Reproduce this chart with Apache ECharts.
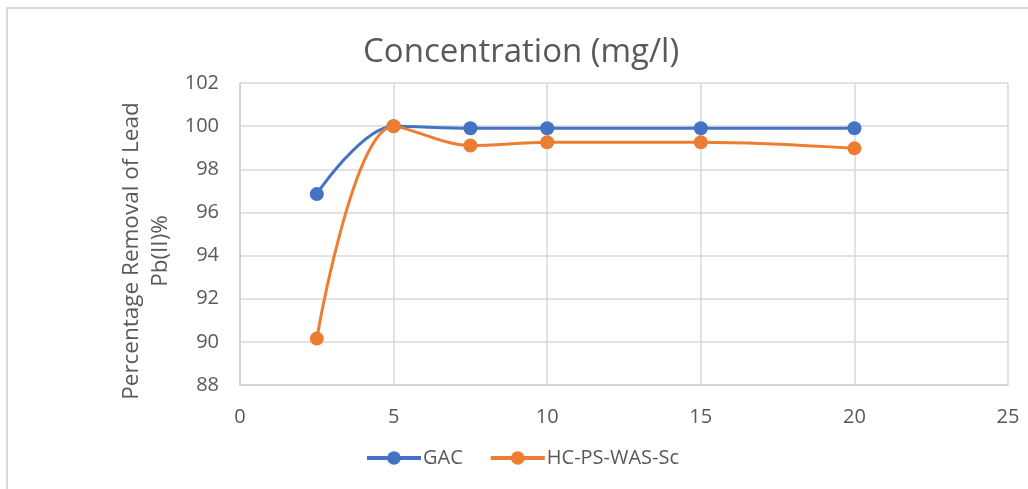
<!DOCTYPE html>
<html>
<head>
<meta charset="utf-8">
<script src="https://cdn.jsdelivr.net/npm/echarts@6/dist/echarts.min.js"></script>
<style>
  html, body { margin: 0; padding: 0; background: #fff; }
  #chart { width: 1028px; height: 489px; }
</style>
</head>
<body>
<div id="chart"></div>
<script>
// Concentration (mg/l) on x, lead removal (%) on y
const concentration = [2.5, 5, 7.5, 10, 15, 20];
const gacRemoval = [96.85, 100, 99.9, 99.9, 99.9, 99.9];
const hcRemoval = [90.15, 100, 99.1, 99.25, 99.25, 98.97];
const seriesNames = ['GAC', 'HC-PS-WAS-Sc'];
const xTicks = { min: 0, max: 25, interval: 5 };
const yTicks = { min: 88, max: 102, interval: 2 };

const font = '"Open Sans", "Noto Sans", sans-serif';
const textGrey = '#595959';
const gridGrey = '#d9d9d9';

const pairs = (xs, ys) => xs.map((x, i) => [x, ys[i]]);

const chart = echarts.init(document.getElementById('chart'), null, { renderer: 'canvas' });
chart.setOption({
  animation: false,
  backgroundColor: '#fff',
  title: {
    text: 'Concentration (mg/l)',
    left: 358,
    top: 31,
    textStyle: { fontFamily: font, fontSize: 33, fontWeight: 'normal', color: textGrey }
  },
  graphic: [
    {
      type: 'rect',
      shape: { x: 7, y: 8, width: 1100, height: 600 },
      style: { fill: 'none', stroke: gridGrey, lineWidth: 2 },
      silent: true
    },
    {
      type: 'text',
      x: 146,
      y: 251,
      rotation: Math.PI / 2,
      style: {
        text: 'Percentage Removal of Lead\nPb(II)%',
        fontFamily: font,
        fontSize: 22.5,
        lineHeight: 29,
        fill: textGrey,
        align: 'center',
        verticalAlign: 'middle'
      }
    }
  ],
  legend: {
    bottom: 16,
    left: 360,
    itemWidth: 54,
    itemHeight: 17,
    itemGap: 26,
    lineStyle: { width: 4 },
    textStyle: { fontFamily: font, fontSize: 20, color: textGrey, padding: [0, 0, 0, -3] },
    data: seriesNames
  },
  grid: { left: 240, right: 20, top: 83, bottom: 104, containLabel: false },
  xAxis: {
    type: 'value',
    min: xTicks.min, max: xTicks.max, interval: xTicks.interval,
    axisLine: { show: true, lineStyle: { color: '#cfcfcf', width: 1.5 } },
    axisTick: { show: false },
    axisLabel: { fontFamily: font, fontSize: 20, color: textGrey, margin: 22 },
    splitLine: { show: true, lineStyle: { color: gridGrey, width: 1.5 } }
  },
  yAxis: {
    type: 'value',
    min: yTicks.min, max: yTicks.max, interval: yTicks.interval,
    axisLine: { show: true, lineStyle: { color: '#cfcfcf', width: 1.5 } },
    axisTick: { show: false },
    axisLabel: { fontFamily: font, fontSize: 20, color: textGrey, margin: 21 },
    splitLine: { show: true, lineStyle: { color: gridGrey, width: 1.5 } }
  },
  series: [
    {
      name: seriesNames[0],
      type: 'line',
      data: pairs(concentration, gacRemoval),
      smooth: 0.35,
      symbol: 'circle',
      symbolSize: 14,
      lineStyle: { width: 3, color: '#4472c4' },
      itemStyle: { color: '#4472c4' }
    },
    {
      name: seriesNames[1],
      type: 'line',
      data: pairs(concentration, hcRemoval),
      smooth: 0.35,
      symbol: 'circle',
      symbolSize: 14,
      lineStyle: { width: 3, color: '#ed7d31' },
      itemStyle: { color: '#ed7d31' }
    }
  ]
});
</script>
</body>
</html>
